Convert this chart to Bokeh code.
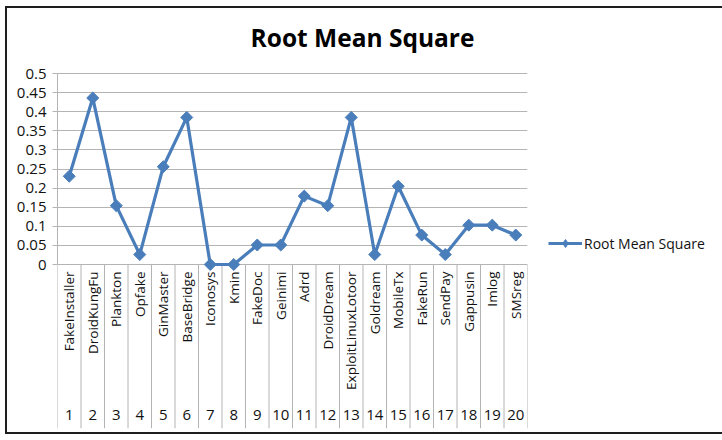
import math
from bokeh.plotting import figure
from bokeh.models import (FactorRange, Range1d, FixedTicker, Legend, LegendItem,
                          ColumnDataSource, LinearAxis, Label)
from bokeh.core.properties import value
from bokeh.embed import file_html
from bokeh.resources import INLINE

# ---- data ----
names = ["FakeInstaller", "DroidKungFu", "Plankton", "Opfake", "GinMaster",
         "BaseBridge", "Iconosys", "Kmin", "FakeDoc", "Geinimi", "Adrd",
         "DroidDream", "ExploitLinuxLotoor", "Goldream", "MobileTx", "FakeRun",
         "SendPay", "Gappusin", "Imlog", "SMSreg"]
numbers = [str(i) for i in range(1, 21)]
rms = [0.231, 0.436, 0.154, 0.026, 0.256, 0.385, 0.0, 0.0, 0.051, 0.051,
       0.179, 0.154, 0.385, 0.026, 0.205, 0.077, 0.026, 0.103, 0.103, 0.077]
y_ticks = [0, 0.05, 0.1, 0.15, 0.2, 0.25, 0.3, 0.35, 0.4, 0.45, 0.5]
y_labels = ["0", "0.05", "0.1", "0.15", "0.2", "0.25", "0.3", "0.35", "0.4", "0.45", "0.5"]
series_name = "Root Mean Square"
title_text = "Root Mean Square"

# ---- layout constants (pixels) ----
FRAME_W = 470
TOP_PAD = 65          # px above the 0.5 gridline (title band)
PLOT_H = 191          # px height for 0..0.5
LABEL_H = 164         # px category label band below 0
FRAME_H = TOP_PAD + PLOT_H + LABEL_H
Y_TOP = 0.5
PX = Y_TOP / PLOT_H   # data units per pixel
y_top = Y_TOP + TOP_PAD * PX
y_bottom = -LABEL_H * PX
TITLE_CX = 305        # px from frame left to the title centre
TITLE_CY = 36         # px above the 0.5 gridline

BLUE = "#4a7ebb"
GRID = "#b4b4b4"
FONT = "Open Sans"

p = figure(x_range=FactorRange(factors=names, range_padding=0),
           y_range=Range1d(y_bottom, y_top),
           frame_width=FRAME_W, frame_height=FRAME_H,
           min_border_left=50, min_border_right=188, min_border_top=0,
           min_border_bottom=4,
           output_backend="svg", toolbar_location=None,
           x_axis_location=None, y_axis_location=None)
p.styles = {"border": "2px solid #1e1e1e", "margin-left": "5px", "margin-top": "6px"}
p.title.visible = False
p.outline_line_color = None
p.background_fill_color = "white"
p.border_fill_color = "white"

# title (drawn in the top band of the frame)
p.add_layout(Label(x=TITLE_CX / FRAME_W * len(names), y=Y_TOP + TITLE_CY * PX,
                   text=title_text, text_align="center", text_baseline="middle",
                   text_font=FONT, text_font_size="24.5px",
                   text_font_style="bold", text_color="#000000"))

# y axis
yax = LinearAxis(ticker=FixedTicker(ticks=y_ticks), bounds=(0, Y_TOP))
yax.major_label_overrides = {t: l for t, l in zip(y_ticks, y_labels)}
yax.axis_line_color = GRID
yax.major_tick_line_color = GRID
yax.major_tick_out = 5
yax.major_tick_in = 0
yax.minor_tick_line_color = None
yax.major_label_text_font = FONT
yax.major_label_text_font_size = "15px"
yax.major_label_text_color = "#111111"
yax.major_label_standoff = 6
p.add_layout(yax, "left")

p.xgrid.visible = False
p.ygrid.ticker = FixedTicker(ticks=y_ticks)
p.ygrid.grid_line_color = GRID
p.ygrid.grid_line_width = 1

# category separators
xr_idx = list(range(0, len(names) + 1))
sep_src = ColumnDataSource(dict(x=xr_idx, y0=[0] * len(xr_idx),
                                y1=[y_bottom] * len(xr_idx)))
p.segment(x0="x", y0="y0", x1="x", y1="y1", source=sep_src,
          line_color=GRID, line_width=1)

# category labels
lab_src = ColumnDataSource(dict(x=names, y=[0] * len(names), t=names))
p.text(x="x", y="y", text="t", source=lab_src, angle=math.pi / 2,
       text_align="right", text_baseline="middle", y_offset=7,
       text_font=value(FONT), text_font_size="13.5px", text_color="#111111")
num_src = ColumnDataSource(dict(x=names, y=[y_bottom] * len(names), t=numbers))
p.text(x="x", y="y", text="t", source=num_src,
       text_align="center", text_baseline="middle", y_offset=-14,
       text_font=value(FONT), text_font_size="15px", text_color="#111111")

# series
src = ColumnDataSource(dict(x=names, y=rms))
ln = p.line(x="x", y="y", source=src, line_color=BLUE, line_width=3.2)
mk = p.scatter(x="x", y="y", source=src, marker="square", angle=math.pi / 4,
               size=8.5, fill_color=BLUE, line_color=BLUE)
# legend-only diamond (NaN value, never drawn in the plot)
proxy_src = ColumnDataSource(dict(x=[names[0]], y=[float("nan")]))
proxy = p.scatter(x="x", y="y", source=proxy_src, marker="diamond", size=10,
                  fill_color=BLUE, line_color=BLUE)

legend = Legend(items=[LegendItem(label=series_name, renderers=[ln, proxy])],
                location=(21, 175))
legend.margin = 0
legend.padding = 10
legend.border_line_color = None
legend.background_fill_alpha = 0
legend.label_text_font = FONT
legend.label_text_font_size = "14px"
legend.label_text_color = "#111111"
legend.glyph_width = 34
legend.label_standoff = 2
p.add_layout(legend, "right")

open("out.html", "w").write(file_html(p, INLINE))
